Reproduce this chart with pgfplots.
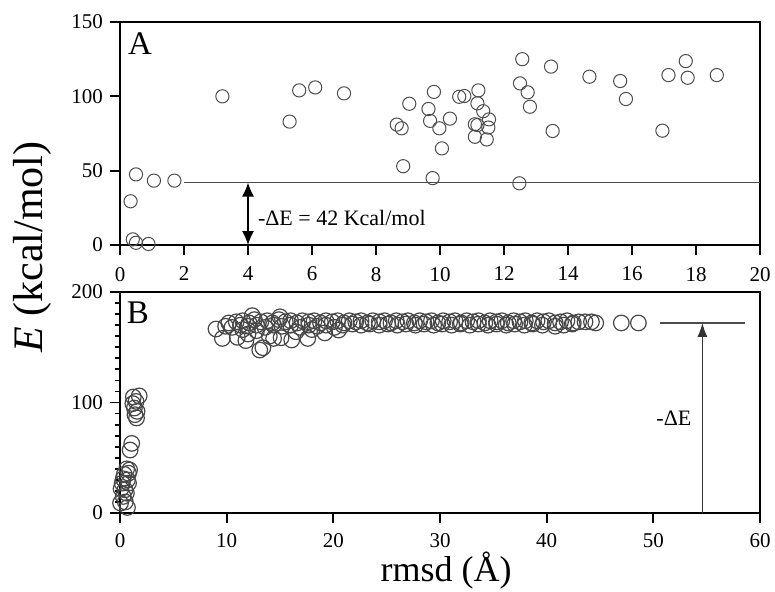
\documentclass[border=0pt]{standalone}
\usepackage{fontspec}
\setmainfont{Liberation Serif}
\usepackage{pgfplots}
\pgfplotsset{compat=1.18}
\usetikzlibrary{arrows.meta}

\pgfplotstableread{
x y
3.2 100
5.3 83
5.6 104
6.1 106
7.0 102
8.65 81
8.8 78.5
9.04 95
8.85 53
9.77 45
9.81 103
9.64 91.5
9.69 83.5
9.98 78.5
10.06 65
10.31 85
10.6 99.7
10.76 100.2
11.2 104
11.17 95.3
11.35 90
11.53 84.5
11.09 81.2
11.17 80.7
11.51 79
11.09 72.8
11.46 71
12.57 125
12.5 108.7
12.74 102.7
12.81 93
12.48 41.5
13.47 120
13.52 76.7
14.67 113.2
15.63 110.3
15.81 98.2
16.95 76.9
17.14 114.3
17.68 123.7
17.74 112.5
18.65 114.3
0.5 47.5
0.33 29.4
1.06 43.3
1.70 43.3
0.4 3.8
0.5 1.5
0.89 0.7
}\dataA

\pgfplotstableread{
x y
10.2 172
10.9 173
11.5 174
12.1 172
12.6 175
13.2 173
13.8 174
14.3 172
14.9 175
15.5 173
16.0 174
16.6 172
17.1 174
17.7 173
18.2 174
18.8 172
19.3 174
19.9 173
20.4 174
21.0 172
21.5 174
22.1 173
22.6 174
23.2 172
23.7 174
24.3 173
24.8 174
25.4 172
25.9 174
26.5 173
27.0 174
27.6 172
28.1 174
28.7 173
29.2 174
29.8 172
30.3 174
30.9 173
31.4 174
32.0 172
32.5 174
33.1 173
33.6 174
34.2 172
34.7 174
35.3 173
35.8 174
36.4 172
36.9 174
37.5 173
38.0 174
38.6 172
39.1 174
39.7 173
40.2 174
40.8 172
41.3 173
41.9 174
42.5 172
43.0 173
43.6 173
44.2 173
44.6 172
10.5 168
11.3 170
12.0 169
12.8 170
13.6 168
14.4 170
15.2 169
16.0 170
16.9 168
17.7 170
18.5 169
19.3 170
20.1 168
20.9 170
21.8 171
22.6 170
23.4 171
24.3 170
25.1 171
26.0 170
26.8 171
27.7 170
28.5 171
29.4 170
30.2 171
31.1 170
31.9 171
32.8 170
33.6 171
34.5 170
35.3 171
36.2 170
37.0 171
37.9 170
38.7 171
39.6 170
40.8 169
41.6 170
42.4 171
9.0 166.5
9.9 169
9.6 158
11.0 159
11.8 156
12.4 178.6
12.8 165
13.1 147.5
13.4 149.6
14.4 158
15.1 158.6
15.0 177.6
16.1 156.6
17.6 158
19.2 163
20.5 165.6
12.0 162
14.0 160
16.5 164
18.0 166
11.5 166
47.0 172
48.6 172
1.25 105
1.5 101
1.4 89
1.55 86
1.8 106
1.2 99
1.35 95
1.6 92
1.1 63
0.95 57
0.63 40
0.9 39
0.8 36
0.3 31
0.2 27
0.47 21
0.3 15
0.05 9
0.8 27
0.6 18
0.4 35
0.7 30
0.1 22
0.5 10
0.7 5
}\dataB

\begin{document}
\begin{tikzpicture}
\useasboundingbox (0,0) rectangle (387.5pt,295.5pt);
\pgfplotsset{
  myaxis/.style={
    scale only axis, width=320pt, anchor=south west,
    tick align=outside, xtick pos=left, ytick pos=left,
    axis line style={line width=1pt},
    major tick length=5pt, minor tick length=2.5pt,
    every tick/.style={line width=0.9pt, black},
    ticklabel style={font=\fontsize{10.5}{12}\selectfont},
    /pgf/number format/assume math mode=true,
  }
}
\begin{axis}[myaxis, at={(60pt,173pt)}, height=111.5pt,
  xmin=0, xmax=20, ymin=0, ymax=150,
  xtick={0,2,...,20}, ytick={0,50,100,150},
  xticklabel style={yshift=-2.5pt}]
\addplot[only marks, mark=o, mark size=3.3pt, mark options={draw=black!70, line width=0.5pt}] table[x=x,y=y] {\dataA};
\addplot[black!70, line width=0.6pt] coordinates {(2,42) (20,42)};
\draw[black, line width=0.6pt, {Latex[length=7pt,width=6pt]}-{Latex[length=7pt,width=6pt]}] (axis cs:4,42) -- (axis cs:4,0);
\node[anchor=west, font=\fontsize{11}{13}\selectfont, inner sep=0pt] at (axis cs:4.3,18) {-ΔE = 42 Kcal/mol};
\end{axis}
\begin{axis}[myaxis, at={(60pt,39pt)}, height=110.5pt,
  xmin=0, xmax=60, ymin=0, ymax=200,
  xtick={0,10,...,60}, ytick={0,100,200}, minor y tick num=9,
  xticklabel style={yshift=-1.5pt}]
\addplot[only marks, mark=o, mark size=3.9pt, mark options={draw=black!72, line width=0.6pt}] table[x=x,y=y] {\dataB};
\addplot[black!70, line width=0.6pt] coordinates {(50.6,172) (58.6,172)};
\draw[black!80, line width=0.6pt, -{Latex[length=7pt,width=5pt]}] (axis cs:54.6,0) -- (axis cs:54.6,172);
\node[anchor=east, font=\fontsize{11}{13}\selectfont, inner sep=0pt] at (axis cs:53.6,86) {-ΔE};
\end{axis}
\node[font=\fontsize{16.5}{18}\selectfont] at (70pt,273.5pt) {A};
\node[font=\fontsize{16.5}{18}\selectfont] at (69pt,139pt) {B};
\node[rotate=90, font=\fontsize{21}{24}\selectfont] at (16pt,172pt) {\textit{E} (kcal/mol)};
\node[anchor=base, inner sep=0pt, font=\fontsize{18}{22}\selectfont] at (223pt,5pt) {rmsd (Å)};
\end{tikzpicture}
\end{document}
